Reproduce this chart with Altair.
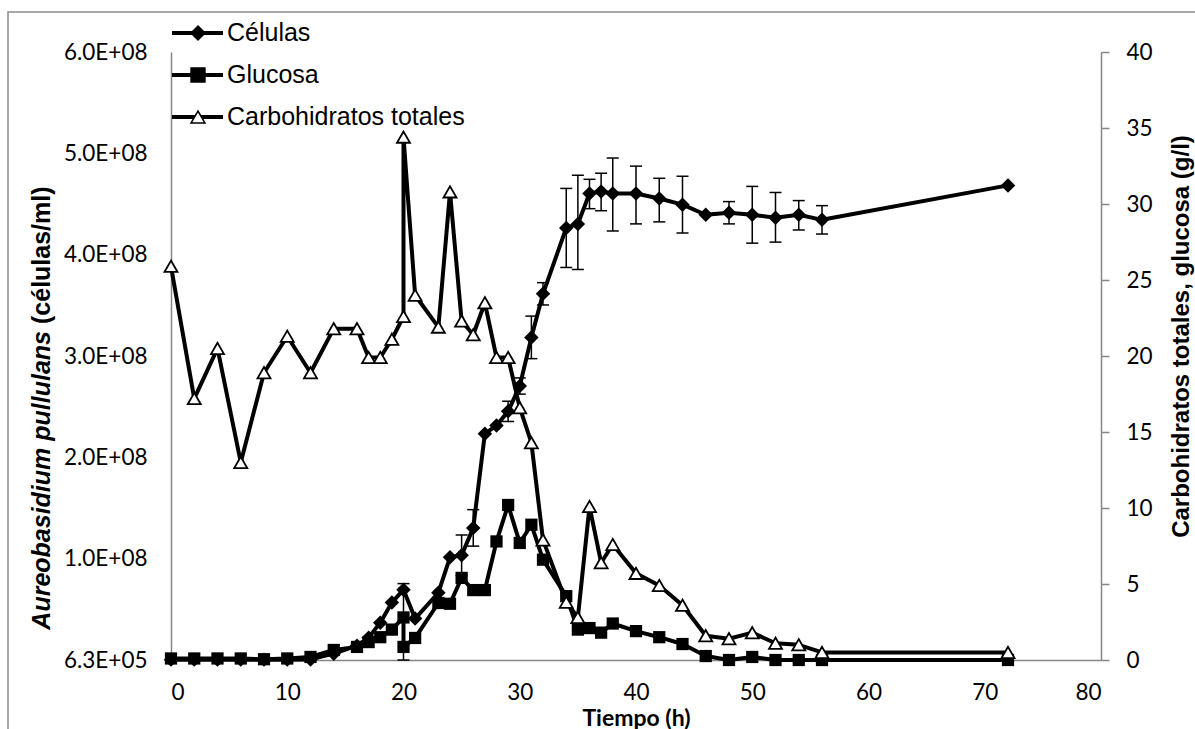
import altair as alt
import pandas as pd

# ---------------- data ----------------
series_names = ["Células", "Glucosa", "Carbohidratos totales"]

# Cells (x 1e8 cells/ml), left axis
t_cells = [0, 2, 4, 6, 8, 10, 12, 14, 16, 17, 18, 19, 20, 21, 23, 24, 25, 26, 27, 28,
           29, 30, 31, 32, 34, 35, 36, 37, 38, 40, 42, 44, 46, 48, 50, 52, 54, 56, 72]
cells_e8 = [0.01, 0.01, 0.01, 0.01, 0.01, 0.01, 0.012, 0.069, 0.148, 0.227, 0.375, 0.573,
            0.70, 0.415, 0.67, 1.02, 1.04, 1.31, 2.24, 2.32, 2.46, 2.71, 3.19, 3.62,
            4.27, 4.31, 4.61, 4.63, 4.61, 4.61, 4.56, 4.50, 4.40, 4.42, 4.40, 4.37,
            4.40, 4.35, 4.69]

# error bars of the cell counts (x 1e8)
err_t = [20, 25, 26, 29, 30, 31, 32, 34, 35, 36, 37, 38, 40, 42, 44, 48, 50, 52, 54, 56]
err_lo = [0.006, 0.84, 1.13, 2.36, 2.63, 2.98, 3.51, 3.88, 3.86, 4.46, 4.44, 4.24, 4.31,
          4.33, 4.22, 4.31, 4.12, 4.13, 4.25, 4.21]
err_hi = [0.76, 1.24, 1.49, 2.56, 2.79, 3.40, 3.73, 4.66, 4.79, 4.75, 4.81, 4.96, 4.88,
          4.76, 4.78, 4.53, 4.68, 4.62, 4.54, 4.49]

# Glucose (g/l), right axis
t_glu = [0, 2, 4, 6, 8, 10, 12, 14, 16, 17, 18, 19, 20, 20, 21, 23, 24, 25, 26, 27, 28,
         29, 30, 31, 32, 34, 35, 36, 37, 38, 40, 42, 44, 46, 48, 50, 52, 54, 56, 72]
glu = [0.1, 0.1, 0.1, 0.1, 0.05, 0.1, 0.2, 0.66, 0.86, 1.18, 1.5, 2.0, 2.8, 0.86, 1.45,
       3.75, 3.7, 5.4, 4.6, 4.6, 7.8, 10.2, 7.7, 8.9, 6.6, 4.2, 2.0, 2.1, 1.8, 2.4, 1.9,
       1.5, 1.05, 0.26, 0.0, 0.2, 0.0, 0.0, 0.0, 0.0]

# Total carbohydrates (g/l), right axis
t_carb = [0, 2, 4, 6, 8, 10, 12, 14, 16, 17, 18, 19, 20, 20, 21, 23, 24, 25, 26, 27, 28,
          29, 30, 31, 32, 34, 35, 36, 37, 38, 40, 42, 44, 46, 48, 50, 52, 54, 56, 72]
carb = [25.9, 17.2, 20.5, 13.0, 18.9, 21.3, 18.9, 21.8, 21.8, 19.9, 19.9, 21.1, 22.6, 34.4,
        24.0, 21.9, 30.8, 22.3, 21.4, 23.5, 19.9, 19.9, 16.6, 14.3, 7.9, 3.8, 2.8, 10.1,
        6.4, 7.6, 5.7, 4.9, 3.6, 1.6, 1.4, 1.8, 1.1, 1.0, 0.5, 0.5]

x_ticks = [0, 10, 20, 30, 40, 50, 60, 70, 80]
left_min = 630000
left_ticks = [left_min + k * 1e8 for k in range(7)]
right_ticks = [0, 5, 10, 15, 20, 25, 30, 35, 40]

# ---------------- frames ----------------
cells_df = pd.DataFrame({"t": t_cells, "v": [c * 1e8 for c in cells_e8],
                         "i": list(range(len(t_cells)))})
err_df = pd.DataFrame({"t": err_t, "lo": [c * 1e8 for c in err_lo],
                       "hi": [c * 1e8 for c in err_hi]})
glu_df = pd.DataFrame({"t": t_glu, "g": glu, "i": list(range(len(t_glu)))})
carb_df = pd.DataFrame({"t": t_carb, "g": carb, "i": list(range(len(t_carb)))})
leg_df = pd.DataFrame({"s": series_names})
one_df = pd.DataFrame({"d": [0]})

GREY = "#868686"
BLACK = "#000000"
TICK_FS = 22.5

x_enc = alt.X("t:Q", scale=alt.Scale(domain=[0, 80], nice=False),
              axis=alt.Axis(values=x_ticks, title="Tiempo (h)", grid=False,
                            ticks=False, tickSize=0, labelPadding=21,
                            domainColor=GREY, domainWidth=1.5,
                            labelFont="Lato", labelFontSize=TICK_FS, labelColor=BLACK,
                            titleFont="Lato", titleFontSize=23, titleFontWeight="bold",
                            titleColor=BLACK, titleY=58, titleBaseline="middle"))

left_scale = alt.Scale(domain=[left_min, left_min + 6e8], nice=False, zero=False)
left_axis = alt.Axis(orient="left", values=left_ticks, title=None, grid=False,
                     ticks=False, tickSize=0, labelPadding=24,
                     domainColor=GREY, domainWidth=1.5,
                     labelFont="Lato", labelFontSize=TICK_FS, labelColor=BLACK,
                     labelExpr="datum.value < 1e6 ? '6.3E+05' : format(datum.value / 1e8, '.1f') + 'E+08'")

right_scale = alt.Scale(domain=[0, 40], nice=False)
right_axis = alt.Axis(orient="right", values=right_ticks, grid=False,
                      title="Carbohidratos totales, glucosa (g/l)",
                      ticks=True, tickSize=8, tickColor=GREY, tickWidth=1.5,
                      labelPadding=17, domainColor=GREY, domainWidth=1.5,
                      labelFont="Lato", labelFontSize=TICK_FS, labelColor=BLACK,
                      titleFont="Liberation Sans", titleFontSize=24,
                      titleFontWeight="bold", titleColor=BLACK, titleAngle=270,
                      titleX=80, titleY=284, titleAlign="center",
                      titleBaseline="middle")

# ---------------- cells layer (left axis) ----------------
cells_line = alt.Chart(cells_df).mark_line(color=BLACK, strokeWidth=4,
                                           strokeJoin="round").encode(
    x=x_enc, y=alt.Y("v:Q", scale=left_scale, axis=left_axis),
    order=alt.Order("i:Q"))
cells_err = alt.Chart(err_df).mark_rule(color=BLACK, strokeWidth=1.5).encode(
    x=x_enc, y=alt.Y("lo:Q", scale=left_scale, axis=left_axis), y2="hi:Q")
cells_cap_lo = alt.Chart(err_df).mark_tick(color=BLACK, orient="horizontal", size=12,
                                          thickness=1.5, opacity=1).encode(
    x=x_enc, y=alt.Y("lo:Q", scale=left_scale, axis=left_axis))
cells_cap_hi = alt.Chart(err_df).mark_tick(color=BLACK, orient="horizontal", size=12,
                                          thickness=1.5, opacity=1).encode(
    x=x_enc, y=alt.Y("hi:Q", scale=left_scale, axis=left_axis))
cells_pts = alt.Chart(cells_df).mark_point(shape="diamond", size=210, filled=True,
                                           color=BLACK, opacity=1).encode(
    x=x_enc, y=alt.Y("v:Q", scale=left_scale, axis=left_axis))
cells_layer = alt.layer(cells_line, cells_err, cells_cap_lo, cells_cap_hi, cells_pts)

# ---------------- glucose + carbohydrates (right axis) ----------------
y_right = alt.Y("g:Q", scale=right_scale, axis=right_axis)
glu_line = alt.Chart(glu_df).mark_line(color=BLACK, strokeWidth=4,
                                       strokeJoin="round").encode(
    x=x_enc, y=y_right, order=alt.Order("i:Q"))
glu_pts = alt.Chart(glu_df).mark_point(shape="square", size=150, filled=True,
                                       color=BLACK, opacity=1).encode(x=x_enc, y=y_right)
carb_line = alt.Chart(carb_df).mark_line(color=BLACK, strokeWidth=4,
                                         strokeJoin="round").encode(
    x=x_enc, y=y_right, order=alt.Order("i:Q"))
carb_pts = alt.Chart(carb_df).mark_point(shape="triangle-up", size=170, filled=True,
                                         fill="white", stroke=BLACK, strokeWidth=1.8,
                                         opacity=1).encode(x=x_enc, y=y_right)
right_layer = alt.layer(glu_line, glu_pts, carb_line, carb_pts)

# ---------------- legend (top left) and decorations ----------------
leg_y = alt.Y("s:N", scale=alt.Scale(type="point", domain=series_names,
                                     range=[-19, 65], padding=0), axis=None)
leg_line = alt.Chart(leg_df).mark_rule(color=BLACK, strokeWidth=4).encode(
    x=alt.value(1), x2=alt.value(52), y=leg_y)
leg_pts = alt.Chart(leg_df).mark_point(filled=True, opacity=1, size=190,
                                       stroke=BLACK, strokeWidth=1.6).encode(
    x=alt.value(27), y=leg_y,
    shape=alt.Shape("s:N", scale=alt.Scale(domain=series_names,
                                           range=["diamond", "square", "triangle-up"]),
                    legend=None),
    fill=alt.Fill("s:N", scale=alt.Scale(domain=series_names,
                                         range=[BLACK, BLACK, "white"]), legend=None))
leg_txt = alt.Chart(leg_df).mark_text(align="left", baseline="middle",
                                      font="Liberation Sans", fontSize=25,
                                      color=BLACK).encode(
    x=alt.value(56), y=leg_y, text="s:N")

title_a = alt.Chart(one_df).mark_text(text="Aureobasidium pullulans", angle=270,
                                      align="right", baseline="middle",
                                      font="Liberation Sans", fontSize=25,
                                      fontWeight="bold", fontStyle="italic",
                                      color=BLACK).encode(
    x=alt.value(-129), y=alt.value(279))
title_b = alt.Chart(one_df).mark_text(text="(células/ml)", angle=270,
                                      align="left", baseline="middle",
                                      font="Liberation Sans", fontSize=25,
                                      fontWeight="bold", color=BLACK).encode(
    x=alt.value(-129), y=alt.value(272))
frame = alt.Chart(one_df).mark_rect(fill="transparent", stroke="#8c8c8c",
                                    strokeWidth=1.5).encode(
    x=alt.value(-163), x2=alt.value(1040), y=alt.value(-40), y2=alt.value(700))

deco_layer = alt.layer(frame, leg_line, leg_pts, leg_txt, title_a, title_b)

chart = alt.layer(cells_layer, right_layer, deco_layer).resolve_scale(
    y="independent", shape="independent", fill="independent"
).properties(
    width=930, height=608, autosize="none",
    padding={"left": 171, "top": 52, "right": 94, "bottom": 69},
    background="white"
).configure_view(stroke="transparent")

chart.save("out.html", embed_options={"renderer": "svg", "actions": False})
